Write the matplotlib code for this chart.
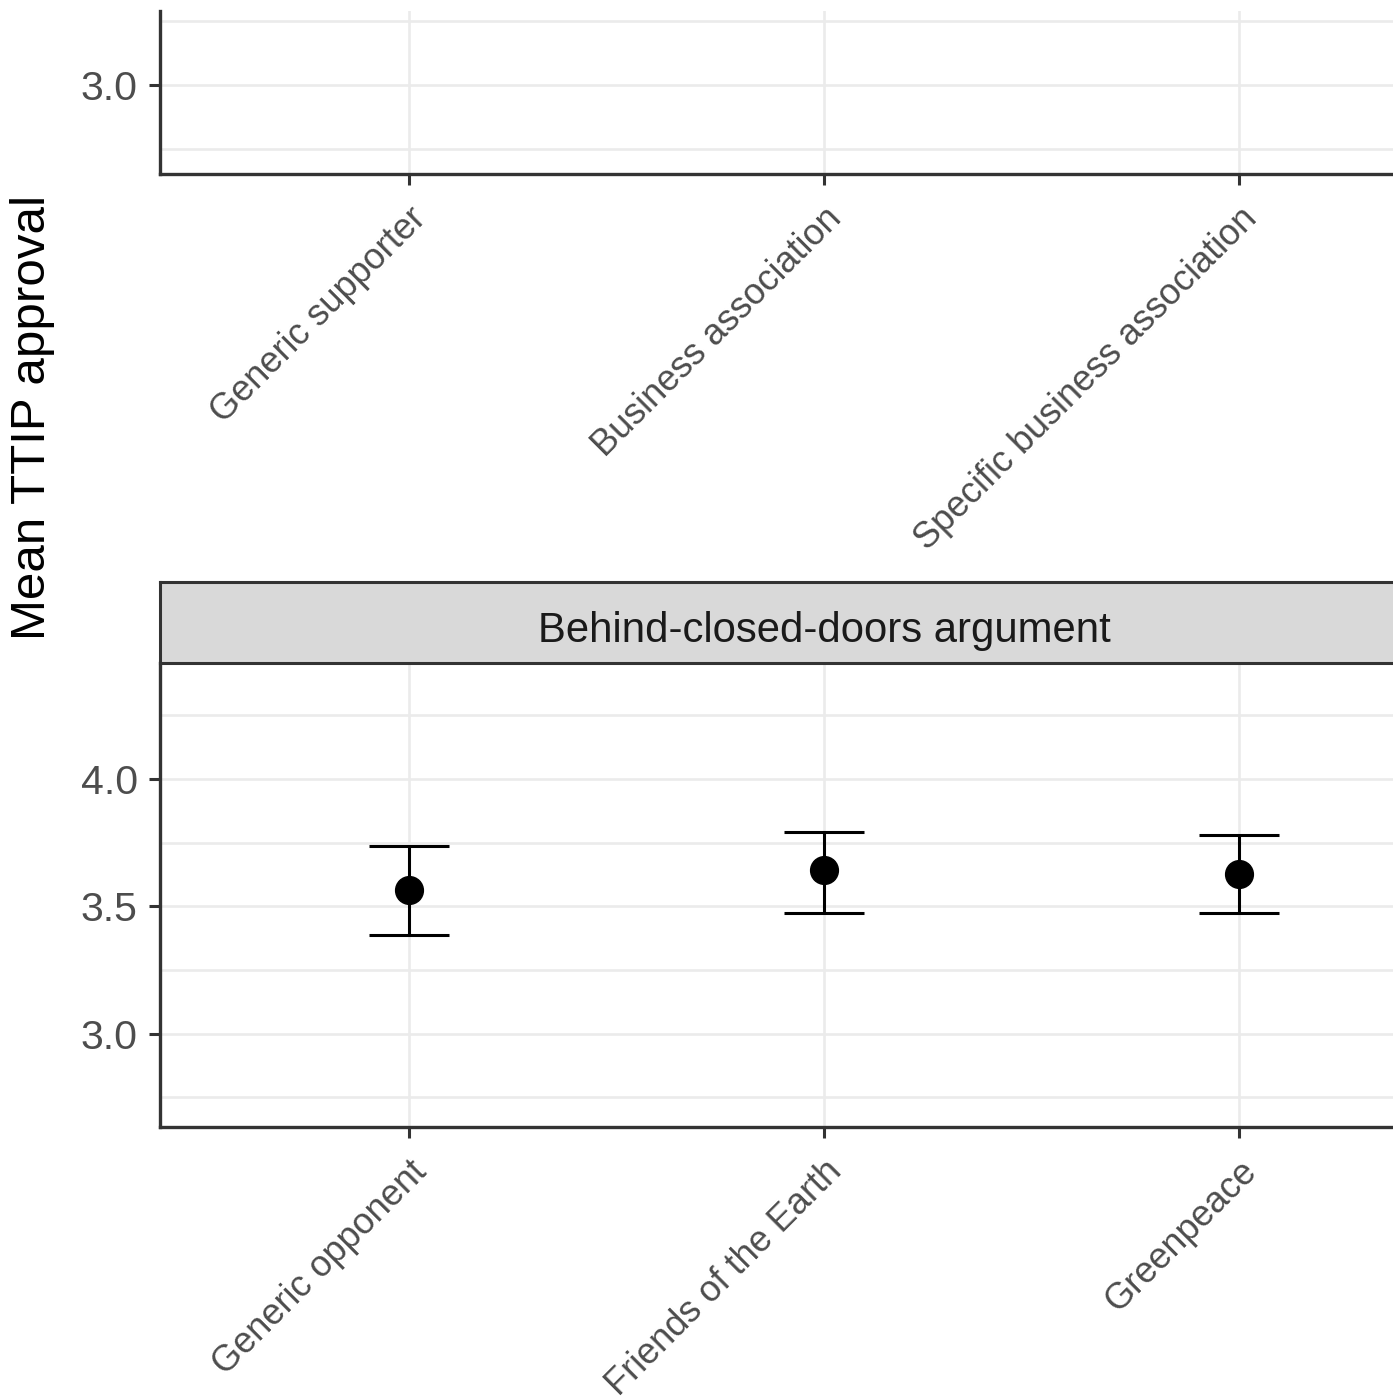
import matplotlib.pyplot as plt
import numpy as np

plt.rcParams["font.family"] = ["Liberation Sans", "DejaVu Sans"]

# top panel (supporter cues) - only its bottom part is visible
top_labels = ["Generic supporter", "Business association", "Specific business association"]

# bottom panel: behind-closed-doors argument
panel_title = "Behind-closed-doors argument"
bottom_labels = ["Generic opponent", "Friends of the Earth", "Greenpeace"]
means = [3.563, 3.642, 3.626]
lower = [3.386, 3.476, 3.476]
upper = [3.736, 3.791, 3.780]

W, H = 1393, 1396
fig = plt.figure(figsize=(W / 100, H / 100), dpi=100)

GRID = "#EBEBEB"
AX = "#333333"
TXT = "#4D4D4D"
FS = 29.5
FSX = 26


def px_box(x0, y0, x1, y1):
    # pixel box (top-left origin) -> figure fraction rect
    return [x0 / W, 1 - y1 / H, (x1 - x0) / W, (y1 - y0) / H]


def style(ax, ylim, major, minor, labels):
    ax.set_xlim(0.4, 3.6)
    ax.set_ylim(*ylim)
    ax.set_yticks(major)
    ax.set_yticklabels([f"{v:.1f}" for v in major])
    ax.set_yticks(minor, minor=True)
    ax.set_xticks([1, 2, 3])
    ax.set_xticklabels(labels, rotation=45, ha="right", va="top",
                       rotation_mode="anchor", fontsize=FSX)
    ax.grid(True, which="both", color=GRID, lw=1.9, zorder=0)
    ax.set_axisbelow(True)
    for s in ["top", "right"]:
        ax.spines[s].set_visible(False)
    for s in ["left", "bottom"]:
        ax.spines[s].set_color(AX)
        ax.spines[s].set_linewidth(2.4)
    ax.tick_params(which="major", length=8, width=2.2, color=AX,
                   labelcolor=TXT, pad=8)
    ax.tick_params(axis="x", pad=11.5)
    ax.tick_params(axis="y", labelsize=FS)
    ax.tick_params(which="minor", length=0)


ax_top = fig.add_axes(px_box(160, 11, 1488, 174))
style(ax_top, (2.65, 3.291), [3.0], [2.75, 3.25], top_labels)

ax_bot = fig.add_axes(px_box(160, 663, 1488, 1127))
style(ax_bot, (2.634, 4.456), [3.0, 3.5, 4.0], [2.75, 3.25, 3.75, 4.25], bottom_labels)

x = np.arange(1, len(bottom_labels) + 1)
m = np.array(means)
yerr = [m - np.array(lower), np.array(upper) - m]
ax_bot.errorbar(x, m, yerr=yerr, fmt="o", color="black", ms=20,
                elinewidth=2.2, capsize=29, capthick=2.2, zorder=3)

# facet strip
strip = fig.add_axes(px_box(160, 582, 1488, 663))
strip.set_facecolor("#D9D9D9")
strip.set_xticks([])
strip.set_yticks([])
for s in strip.spines.values():
    s.set_color(AX)
    s.set_linewidth(2.2)
strip.text(0.5, 0.4, panel_title, ha="center", va="center",
           fontsize=30.2, color="#1A1A1A", transform=strip.transAxes)

fig.text(33 / W, 1 - 418 / H, "Mean TTIP approval", rotation=90,
         ha="center", va="center", fontsize=35.5, color="black")

fig.savefig("out.png", dpi=100, facecolor="white")
